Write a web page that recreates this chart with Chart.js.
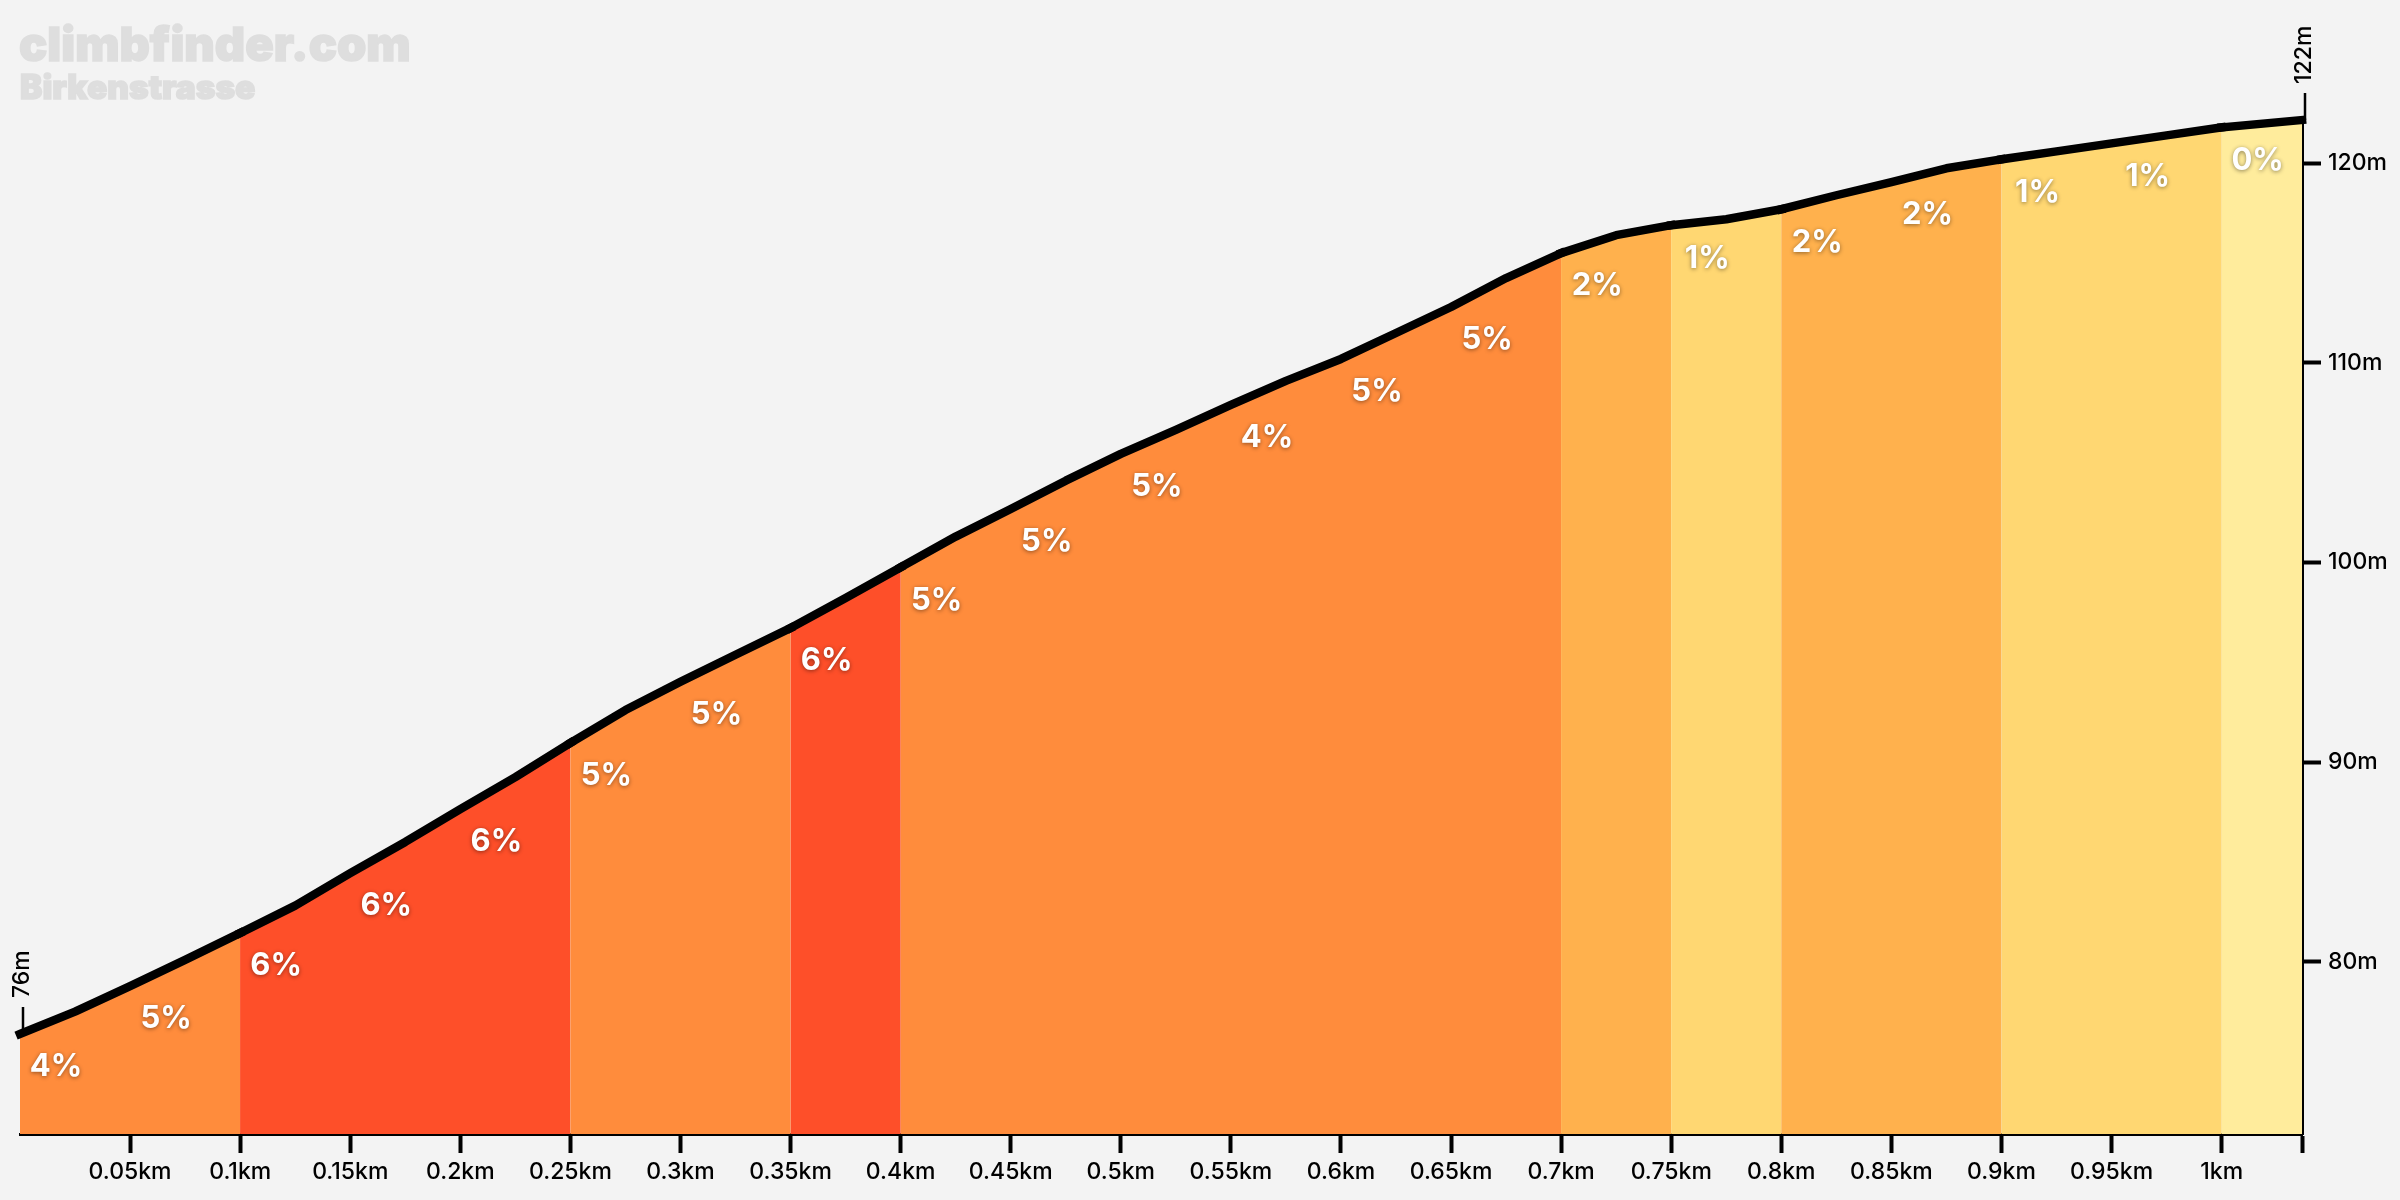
<!DOCTYPE html>
<html>
<head>
<meta charset="utf-8">
<title>Birkenstrasse</title>
<script src="https://cdn.jsdelivr.net/npm/chart.js@4"></script>
<style>
  html, body { margin: 0; padding: 0; background: #f3f3f3; overflow: hidden; }
  canvas { display: block; }
</style>
</head>
<body>
<canvas id="climbChart" width="2400" height="1200"></canvas>
<script>
var SITE_NAME = 'climbfinder.com';
var CLIMB_NAME = 'Birkenstrasse';

var KM = [0, 0.025, 0.05, 0.075, 0.1, 0.125, 0.15, 0.175, 0.2, 0.225, 0.25, 0.275, 0.3, 0.325,
  0.35, 0.375, 0.4, 0.425, 0.45, 0.475, 0.5, 0.525, 0.55, 0.575, 0.6, 0.625, 0.65, 0.675,
  0.7, 0.725, 0.75, 0.775, 0.8, 0.825, 0.85, 0.875, 0.9, 0.925, 0.95, 0.975, 1, 1.0365];
var ELEVATION = [76.38, 77.5, 78.78, 80.09, 81.44, 82.81, 84.44, 86.0, 87.65, 89.25, 90.96, 92.61, 94.03, 95.38,
  96.72, 98.22, 99.76, 101.3, 102.68, 104.1, 105.44, 106.65, 107.9, 109.1, 110.2, 111.5, 112.8, 114.25,
  115.5, 116.4, 116.9, 117.2, 117.7, 118.4, 119.06, 119.75, 120.2, 120.6, 121.0, 121.4, 121.8, 122.17];

// one gradient per 50m stretch
var GRADES = [4, 5, 6, 6, 6, 5, 5, 6, 5, 5, 5, 4, 5, 5, 2, 1, 2, 2, 1, 1, 0];
var STRETCH_KM = 0.05;

var X_TICKS = [0.05, 0.1, 0.15, 0.2, 0.25, 0.3, 0.35, 0.4, 0.45, 0.5, 0.55, 0.6, 0.65, 0.7, 0.75, 0.8, 0.85, 0.9, 0.95, 1, 1.0365];
var X_LABELS = ['0.05km', '0.1km', '0.15km', '0.2km', '0.25km', '0.3km', '0.35km', '0.4km', '0.45km', '0.5km', '0.55km',
  '0.6km', '0.65km', '0.7km', '0.75km', '0.8km', '0.85km', '0.9km', '0.95km', '1km', ''];
var Y_TICKS = [80, 90, 100, 110, 120];

var GRADE_COLORS = { 0: '#ffec9c', 1: '#ffd772', 2: '#ffb14d', 4: '#ff8c3c', 5: '#ff8c3c', 6: '#fe4f29' };
var AXIS_FONT = { family: 'Inter', size: 23, weight: '500' };

function stretchOf(km) {
  return Math.min(Math.floor((km + 1e-6) / STRETCH_KM), GRADES.length - 1);
}

function elevationAt(km) {
  for (var i = 0; i < KM.length; i++) {
    if (Math.abs(KM[i] - km) < 1e-6) return ELEVATION[i];
  }
  return null;
}

function profileDataset(lineWidth) {
  return {
    data: KM.map(function (km, i) { return { x: km, y: ELEVATION[i] }; }),
    borderColor: '#000000',
    borderWidth: lineWidth,
    borderCapStyle: 'square',
    borderJoinStyle: 'round',
    backgroundColor: GRADE_COLORS[5],
    fill: 'start',
    tension: 0,
    pointRadius: 0,
    clip: false,
    segment: {
      backgroundColor: function (ctx) { return GRADE_COLORS[GRADES[stretchOf(ctx.p0.parsed.x)]]; }
    }
  };
}

// watermark, gradient labels and the two end markers
var overlayPlugin = {
  id: 'overlay',
  beforeDatasetsDraw: function (chart) {
    var c = chart.ctx;
    c.save();
    c.fillStyle = '#dedede';
    c.strokeStyle = '#dedede';
    c.lineWidth = 1.5;
    c.textAlign = 'left';
    c.textBaseline = 'alphabetic';
    c.font = '900 47px Inter';
    c.fillText(SITE_NAME, 19, 61);
    c.strokeText(SITE_NAME, 19, 61);
    c.font = '900 33.5px Inter';
    c.fillText(CLIMB_NAME, 20, 99);
    c.strokeText(CLIMB_NAME, 20, 99);
    c.restore();
  },
  afterDraw: function (chart) {
    var c = chart.ctx;
    var x = chart.scales.x;
    var y = chart.scales.y;

    c.save();
    c.font = '700 31px Inter';
    c.textAlign = 'center';
    c.textBaseline = 'middle';
    c.fillStyle = '#ffffff';
    c.shadowColor = 'rgba(0,0,0,0.45)';
    c.shadowBlur = 4;
    c.shadowOffsetY = 1;
    GRADES.forEach(function (g, i) {
      var km = i * STRETCH_KM;
      c.fillText(g + '%', x.getPixelForValue(km) + 36, y.getPixelForValue(elevationAt(km)) + 33);
    });
    c.restore();

    c.save();
    c.strokeStyle = '#000000';
    c.fillStyle = '#000000';
    c.lineWidth = 2.5;
    [0, KM.length - 1].forEach(function (i) {
      var px = x.getPixelForValue(KM[i]) + 3;
      var py = y.getPixelForValue(ELEVATION[i]);
      c.beginPath();
      c.moveTo(px, py);
      c.lineTo(px, py - 27);
      c.stroke();
      c.save();
      c.translate(px - 1, py - 36);
      c.rotate(-Math.PI / 2);
      c.font = '500 23px Inter';
      c.textAlign = 'left';
      c.textBaseline = 'middle';
      c.fillText(Math.round(ELEVATION[i]) + 'm', 0, 0);
      c.restore();
    });
    c.restore();
  }
};

new Chart(document.getElementById('climbChart').getContext('2d'), {
  type: 'line',
  data: {
    labels: KM,
    // second fill-only copy closes the hairline seams between colours
    datasets: [profileDataset(8.5), profileDataset(0)]
  },
  plugins: [overlayPlugin],
  options: {
    responsive: false,
    devicePixelRatio: 1,
    animation: false,
    events: [],
    layout: { padding: { left: 20, top: 119.4, right: 0, bottom: 0 } },
    plugins: { legend: { display: false }, tooltip: { enabled: false } },
    scales: {
      x: {
        type: 'linear',
        min: 0,
        max: 1.0365,
        afterBuildTicks: function (s) { s.ticks = X_TICKS.map(function (v) { return { value: v }; }); },
        afterFit: function (s) { s.height = 66; },
        border: { color: '#000000', width: 3 },
        grid: { drawOnChartArea: false, color: '#000000', tickColor: '#000000', tickLength: 19, tickWidth: 4 },
        ticks: {
          autoSkip: false, maxRotation: 0, padding: 5, color: '#000000', font: AXIS_FONT,
          callback: function (v) { return X_LABELS[X_TICKS.indexOf(v)]; }
        }
      },
      y: {
        position: 'right',
        min: 71.37,
        max: 122.2,
        afterBuildTicks: function (s) { s.ticks = Y_TICKS.map(function (v) { return { value: v }; }); },
        afterFit: function (s) { s.width = 98; },
        border: { color: '#000000', width: 3 },
        grid: { drawOnChartArea: false, color: '#000000', tickColor: '#000000', tickLength: 19, tickWidth: 4 },
        ticks: {
          padding: 7, color: '#000000', font: AXIS_FONT,
          callback: function (v) { return v + 'm'; }
        }
      }
    }
  }
});
</script>
</body>
</html>
